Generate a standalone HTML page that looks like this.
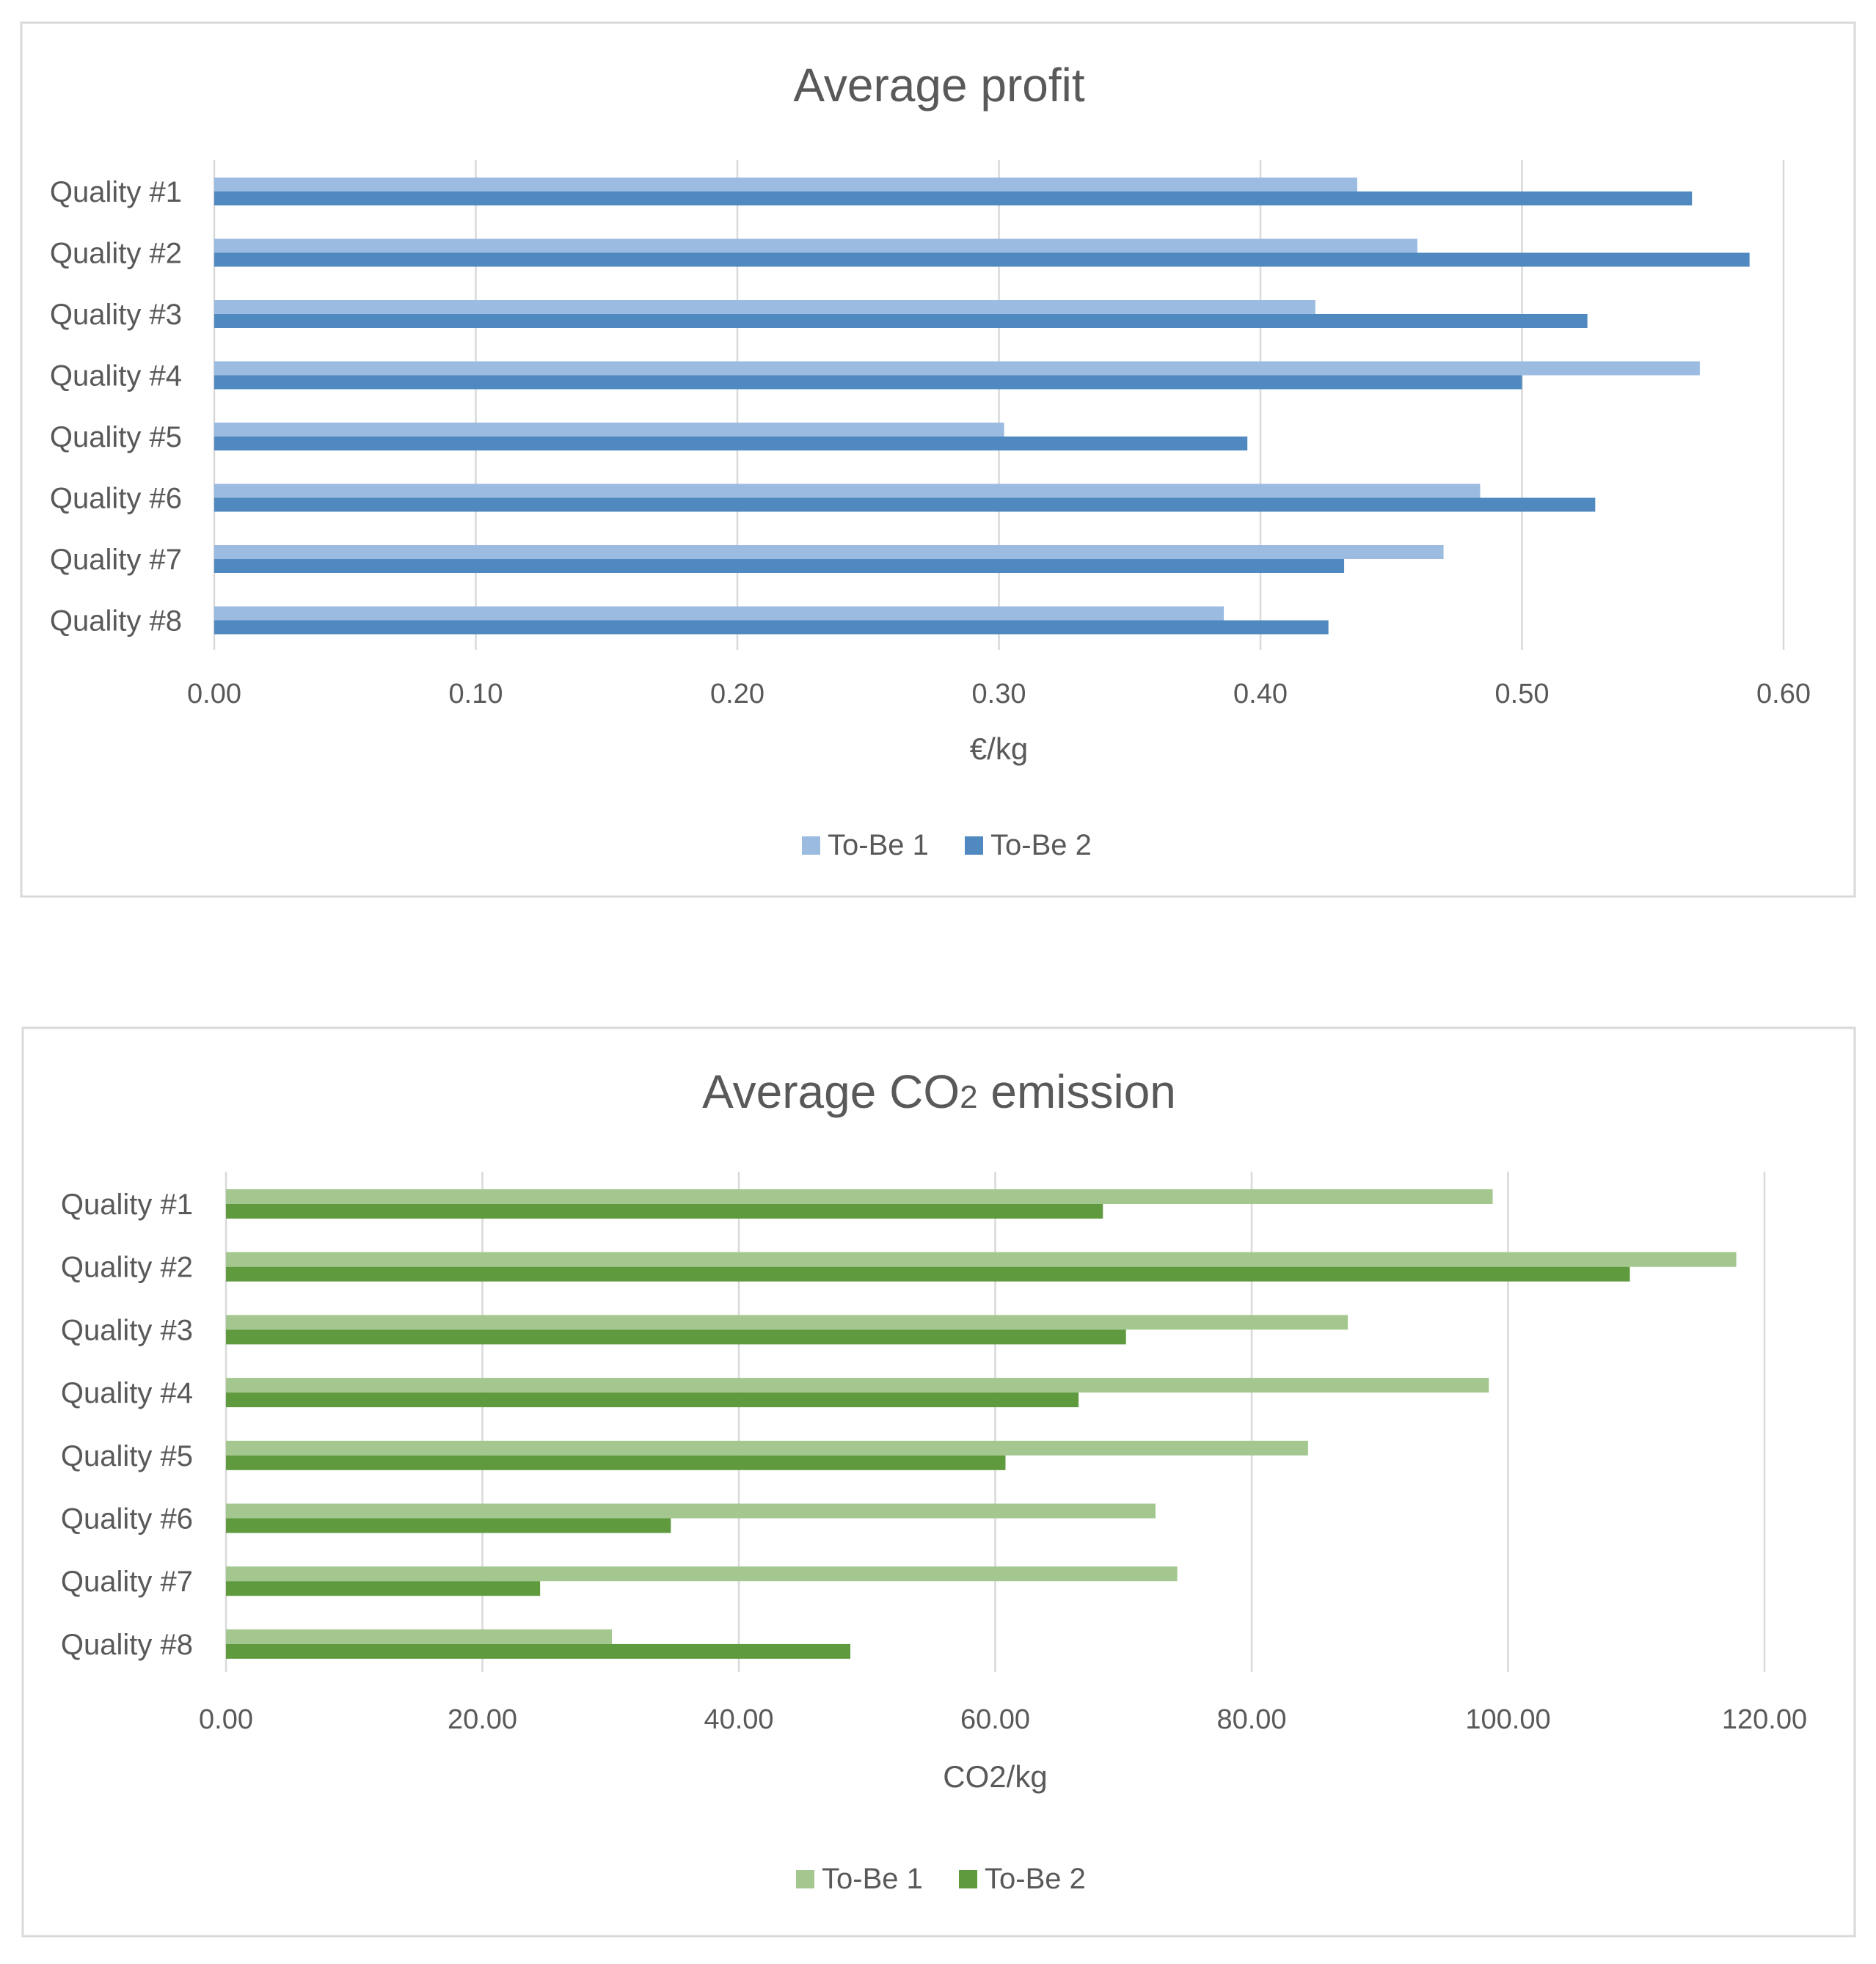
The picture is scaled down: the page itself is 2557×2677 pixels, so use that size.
<!DOCTYPE html>
<html><head><meta charset="utf-8">
<style>
html,body{margin:0;padding:0;background:#fff;}
svg{display:block;font-family:"Liberation Sans",sans-serif;}
</style></head>
<body>
<svg id="svg" width="2557" height="2677" viewBox="0 0 2557 2677" xmlns="http://www.w3.org/2000/svg"></svg>
<script>
const categories = ["Quality #1","Quality #2","Quality #3","Quality #4","Quality #5","Quality #6","Quality #7","Quality #8"];
const profitToBe1 = [0.437,0.460,0.421,0.568,0.302,0.484,0.470,0.386];
const profitToBe2 = [0.565,0.587,0.525,0.500,0.395,0.528,0.432,0.426];
const profitTicks = ["0.00","0.10","0.20","0.30","0.40","0.50","0.60"];
const co2ToBe1 = [98.8,117.8,87.5,98.5,84.4,72.5,74.2,30.1];
const co2ToBe2 = [68.4,109.5,70.2,66.5,60.8,34.7,24.5,48.7];
const co2Ticks = ["0.00","20.00","40.00","60.00","80.00","100.00","120.00"];

const NS="http://www.w3.org/2000/svg";
const svg=document.getElementById('svg');
function mk(tag,attrs,parent,text){const e=document.createElementNS(NS,tag);for(const k in attrs)e.setAttribute(k,attrs[k]);if(text!==undefined)e.textContent=text;(parent||svg).appendChild(e);return e;}

function chart(cfg){
  const g=mk('g',{});
  
  
  const box=mk('rect',{x:cfg.box[0],y:cfg.box[1],width:cfg.box[2],height:cfg.box[3],fill:'#fff',stroke:'#d9d9d9','stroke-width':3},g);
  
  
  const title=mk('text',{x:cfg.titleX,y:cfg.titleY,'text-anchor':'middle','font-size':64,fill:'#595959'},g);
  
  
  cfg.title(title);
  const maxV=parseFloat(cfg.ticks[cfg.ticks.length-1]);
  const xs=v=>cfg.x0+(cfg.x1-cfg.x0)*v/maxV;
  cfg.ticks.forEach(t=>{
    const v=parseFloat(t),x=xs(v);
    const l=mk('line',{x1:x,x2:x,y1:cfg.gTop,y2:cfg.gBot,stroke:'#d9d9d9','stroke-width':2.5},g);
    
    
    const tx=mk('text',{x:x,y:cfg.tickY,'text-anchor':'middle','font-size':38,fill:'#595959'},g,t);
    
    
  });
  categories.forEach((c,i)=>{
    const cy=cfg.cy0+i*cfg.step;
    const lb=mk('text',{x:cfg.labelX,y:cy+14,'text-anchor':'end','font-size':40,fill:'#595959'},g,c);
    
    
    const b1=mk('rect',{x:cfg.x0,y:cy-cfg.bh,width:xs(cfg.s1[i])-cfg.x0,height:cfg.bh,fill:cfg.c1},g);
    
    
    const b2=mk('rect',{x:cfg.x0,y:cy,width:xs(cfg.s2[i])-cfg.x0,height:cfg.bh,fill:cfg.c2},g);
    
    
  });
  const at=mk('text',{x:(cfg.x0+cfg.x1)/2,y:cfg.axisY,'text-anchor':'middle','font-size':42,fill:'#595959'},g,cfg.axisTitle);
  
  
  const lx=cfg.legX, ly=cfg.legY;
  const s1=mk('rect',{x:lx,y:ly-25,width:25,height:25,fill:cfg.c1},g);
  
  
  const t1=mk('text',{x:lx+35,y:ly,'font-size':40,fill:'#595959'},g,'To-Be 1');
  
  
  const s2=mk('rect',{x:lx+222,y:ly-25,width:25,height:25,fill:cfg.c2},g);
  
  
  const t2=mk('text',{x:lx+257,y:ly,'font-size':40,fill:'#595959'},g,'To-Be 2');
  
  
}

chart({name:'average-profit-chart',box:[29,31,2499,1191],titleX:1280,titleY:138,
  title:t=>{t.textContent='Average profit';},
  x0:292,x1:2431,gTop:218,gBot:886,ticks:profitTicks,tickY:958,
  cy0:261,step:83.5,bh:19,labelX:248,s1:profitToBe1,s2:profitToBe2,
  c1:'#9bbbe1',c2:'#4f89bf',axisTitle:'€/kg',axisY:1035,legX:1093,legY:1165});

chart({name:'average-co2-chart',box:[31,1401,2497,1238],titleX:1280,titleY:1510,
  title:t=>{t.appendChild(document.createTextNode('Average CO'));const s=document.createElementNS(NS,'tspan');s.setAttribute('font-size',44);s.textContent='2';t.appendChild(s);t.appendChild(document.createTextNode(' emission'));},
  x0:308,x1:2405,gTop:1597,gBot:2279,ticks:co2Ticks,tickY:2356,
  cy0:1641,step:85.7,bh:20,labelX:263,s1:co2ToBe1,s2:co2ToBe2,
  c1:'#a3c78f',c2:'#5f9a3e',axisTitle:'CO2/kg',axisY:2436,legX:1085,legY:2574});
</script>
</body></html>
